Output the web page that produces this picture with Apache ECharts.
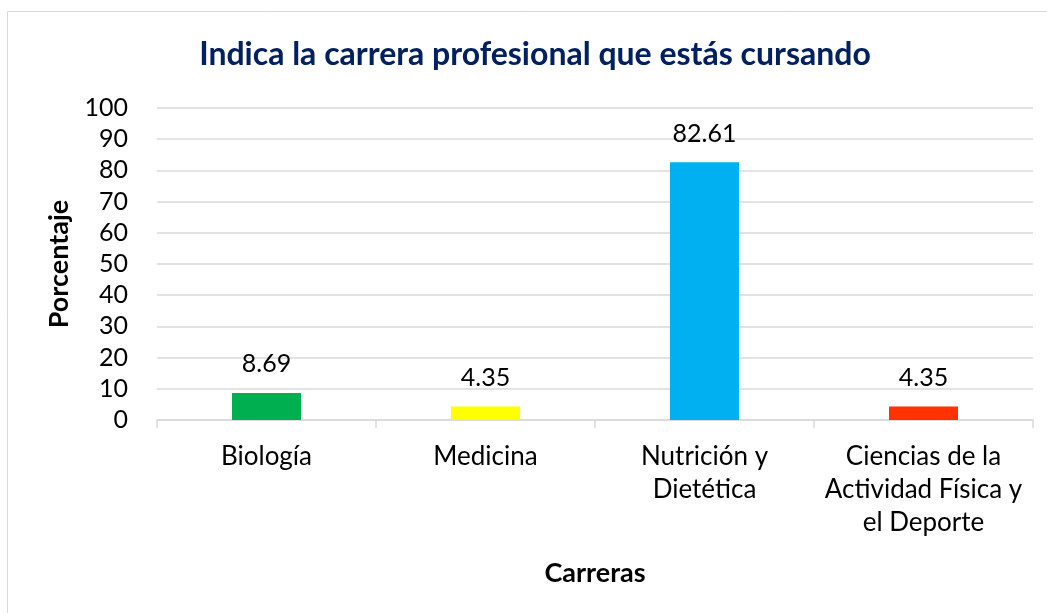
<!DOCTYPE html>
<html>
<head>
<meta charset="utf-8">
<script src="https://cdn.jsdelivr.net/npm/echarts@6/dist/echarts.min.js"></script>
<style>
    html, body { margin: 0; padding: 0; background: #fff; }
    #chart { width: 1047px; height: 613px; }
</style>
</head>
<body>
<div id="chart"></div>
<script>
    const categories = ['Biología', 'Medicina', 'Nutrición y\nDietética', 'Ciencias de la\nActividad Física y\nel Deporte']
    const values = [8.69, 4.35, 82.61, 4.35]
    const barColors = ['#00b050', '#ffff00', '#00b0f0', '#ff3300']
    const yTicks = {min: 0, max: 100, interval: 10}

    const font = 'Lato, "Open Sans", sans-serif'

    const chart = echarts.init(document.getElementById('chart'))
    chart.setOption({
        animation: false,
        textStyle: {fontFamily: font},
        title: {
            text: 'Indica la carrera profesional que estás cursando',
            left: 530,
            top: 34,
            textAlign: 'center',
            textStyle: {fontFamily: font, fontSize: 32, fontWeight: 'bold', color: '#002060'}
        },
        graphic: [{
            type: 'rect',
            shape: {x: 7.5, y: 11.5, width: 1100, height: 700},
            style: {fill: 'none', stroke: '#d9d9d9', lineWidth: 1},
            silent: true
        }],
        grid: {left: 157, right: 14, top: 108, bottom: 193},
        xAxis: {
            type: 'category',
            data: categories,
            name: 'Carreras',
            nameLocation: 'middle',
            nameGap: 140,
            nameTextStyle: {fontFamily: font, fontSize: 27, fontWeight: 'bold', color: '#000'},
            axisLine: {lineStyle: {color: '#d9d9d9', width: 1.5}},
            axisTick: {show: true, length: 8, alignWithLabel: false, lineStyle: {color: '#d9d9d9', width: 1.5}},
            axisLabel: {fontFamily: font, fontSize: 26, color: '#000', lineHeight: 33, margin: 20, interval: 0}
        },
        yAxis: {
            type: 'value',
            min: yTicks.min,
            max: yTicks.max,
            interval: yTicks.interval,
            name: 'Porcentaje',
            nameLocation: 'middle',
            nameGap: 84,
            nameRotate: 90,
            nameTextStyle: {fontFamily: font, fontSize: 27, fontWeight: 'bold', color: '#000'},
            axisLine: {show: false},
            axisTick: {show: false},
            axisLabel: {fontFamily: font, fontSize: 25, color: '#000', margin: 29},
            splitLine: {lineStyle: {color: '#d9d9d9', width: 1.5}}
        },
        series: [{
            type: 'bar',
            barWidth: 69,
            data: values.map((v, i) => ({value: v, itemStyle: {color: barColors[i]}})),
            label: {
                show: true,
                position: 'top',
                distance: 16,
                fontFamily: font,
                fontSize: 25,
                color: '#000',
                formatter: p => p.value.toFixed(2)
            }
        }]
    })
</script>
</body>
</html>
